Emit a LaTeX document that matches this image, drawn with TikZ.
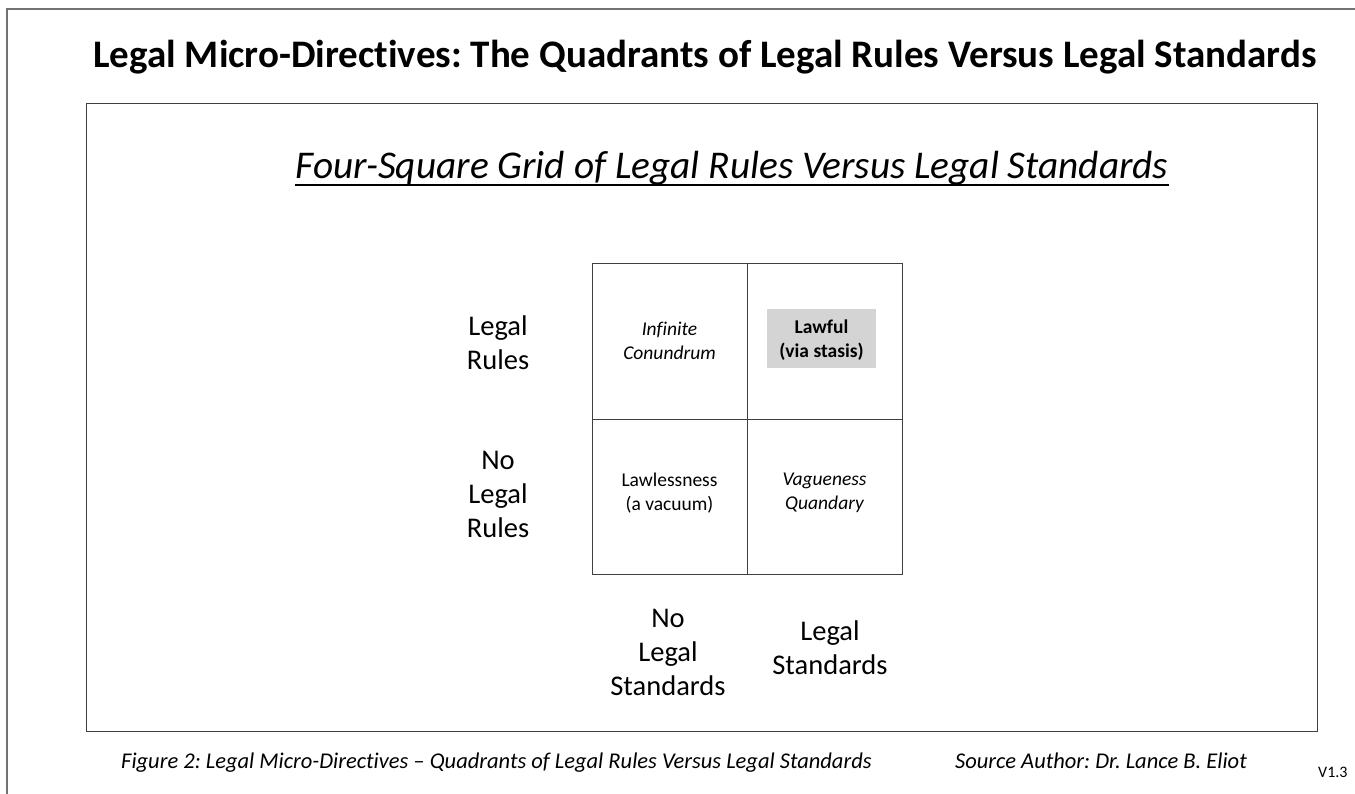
\documentclass[tikz,border=0pt]{standalone}
\usepackage{fontspec}
\setmainfont[Ligatures=NoCommon]{Carlito}
\frenchspacing
\begin{document}
\begin{tikzpicture}[x=1pt,y=-1pt,
  frame/.style={draw=black!55, line width=1.3pt},
  box/.style={draw=black!75, line width=1pt},
  axislabel/.style={font=\fontsize{28.5}{34}\selectfont, align=center, inner sep=0pt},
  celltext/.style={font=\fontsize{19.5}{24}\selectfont, align=center, inner sep=0pt},
  caption/.style={font=\fontsize{22.5}{26}\selectfont\itshape, inner sep=0pt, anchor=base west}]
\useasboundingbox (0,0) rectangle (1355,793);
\begin{scope}
\clip (0,0) rectangle (1355,793);
\draw[frame] (7,9) rectangle (1400,850);
\end{scope}
% title
\node[font=\fontsize{39}{44}\selectfont\bfseries, anchor=base, inner sep=0pt] (title) at (705,67) {Legal Micro-Directives: The Quadrants of Legal Rules Versus Legal Standards};
% inner box
\draw[box] (86,103) rectangle (1317,731);
\node[font=\fontsize{39.3}{44}\selectfont\itshape, anchor=base, inner sep=0pt] (sub) at (732,178) {Four-Square Grid of Legal Rules Versus Legal Standards};
\draw[line width=2pt] ([yshift=-7pt]sub.base west) -- ([yshift=-7pt]sub.base east);
% grid
\draw[box] (592,263) rectangle (902,574);
\draw[box] (747,263) -- (747,574);
\draw[box] (592,419) -- (902,419);
\node[fill=black!17, minimum width=109pt, minimum height=59pt, inner sep=0pt] (gray) at (821.5,338.5) {};
\node[celltext, font=\fontsize{19.5}{24}\selectfont\bfseries] (lawful) at (821.5,340) {Lawful\\(via stasis)};
\node[celltext, font=\fontsize{19.5}{24}\selectfont\itshape] (inf) at (669.5,341) {Infinite\\Conundrum};
\node[celltext] (lawless) at (669.5,493) {Lawlessness\\(a vacuum)};
\node[celltext, font=\fontsize{19.5}{24}\selectfont\itshape] (vague) at (824.5,493) {Vagueness\\Quandary};
% axis labels
\node[axislabel] (lr) at (498,343) {Legal\\Rules};
\node[axislabel] (nlr) at (498,494) {No\\Legal\\Rules};
\node[axislabel] (nls) at (668,652) {No\\Legal\\Standards};
\node[axislabel] (ls) at (830,648) {Legal\\Standards};
% captions
\node[caption] (fig) at (121,768) {Figure 2: Legal Micro-Directives -- Quadrants of Legal Rules Versus Legal Standards};
\node[caption] (src) at (955,768) {Source Author: Dr. Lance B. Eliot};
\node[font=\fontsize{16}{18}\selectfont, anchor=base west, inner sep=0pt] (ver) at (1318,777) {V1.3};
\end{tikzpicture}
\end{document}
